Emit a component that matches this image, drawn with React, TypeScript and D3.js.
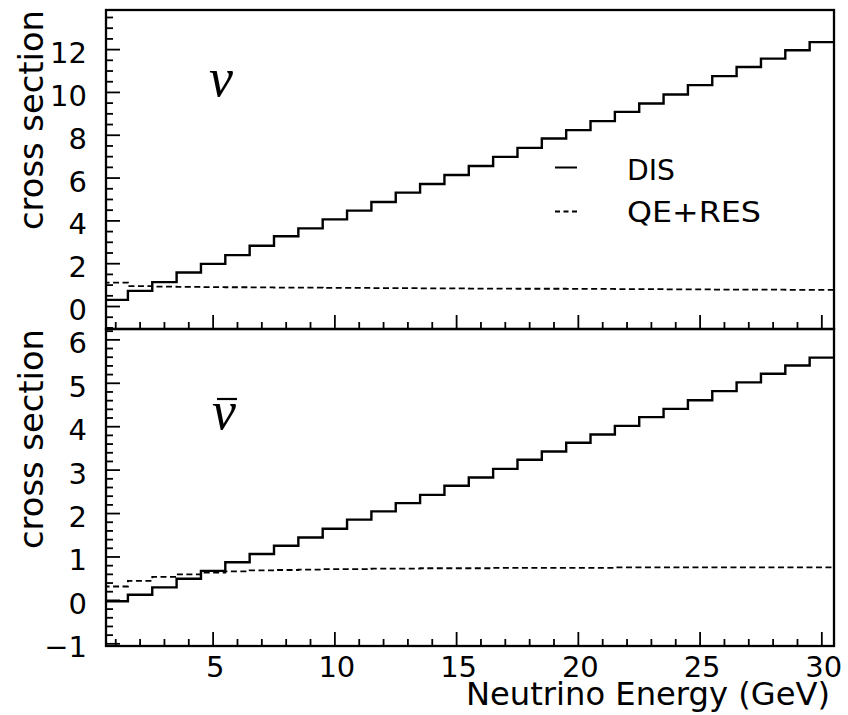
import React from "react";
import * as d3 from "d3";

// Energy bins: 1 GeV wide, centred on integer energies
const energies = d3.range(1, 31);

// Neutrino cross sections per bin
const nuDIS = [
  0.31, 0.73, 1.14, 1.59, 1.99, 2.4, 2.84, 3.28, 3.65, 4.07,
  4.48, 4.88, 5.32, 5.72, 6.14, 6.56, 6.99, 7.41, 7.85, 8.24,
  8.66, 9.09, 9.48, 9.9, 10.34, 10.76, 11.19, 11.58, 11.97, 12.35,
];
const nuQERES = [
  1.12, 0.95, 0.93, 0.92, 0.91, 0.9, 0.89, 0.88, 0.88, 0.87,
  0.87, 0.86, 0.86, 0.85, 0.85, 0.84, 0.84, 0.83, 0.83, 0.82,
  0.82, 0.81, 0.81, 0.8, 0.8, 0.79, 0.79, 0.79, 0.78, 0.78,
];

// Anti-neutrino cross sections per bin
const nubarDIS = [
  -0.02, 0.13, 0.3, 0.5, 0.68, 0.88, 1.07, 1.26, 1.45, 1.65,
  1.86, 2.05, 2.24, 2.43, 2.64, 2.83, 3.03, 3.24, 3.43, 3.63,
  3.82, 4.02, 4.22, 4.41, 4.61, 4.82, 5.02, 5.22, 5.41, 5.59,
];
const nubarQERES = [
  0.32, 0.45, 0.54, 0.6, 0.64, 0.67, 0.69, 0.7, 0.71, 0.72,
  0.72, 0.73, 0.73, 0.74, 0.74, 0.74, 0.75, 0.75, 0.75, 0.75,
  0.75, 0.76, 0.76, 0.76, 0.76, 0.76, 0.76, 0.76, 0.76, 0.76,
];

const xTickLabels = [5, 10, 15, 20, 25, 30];
const topYLabels = [0, 2, 4, 6, 8, 10, 12];
const bottomYLabels = [-1, 0, 1, 2, 3, 4, 5, 6];
const legendItems = ["DIS", "QE+RES"];

const W = 848;
const H = 715;
const LEFT = 106;
const RIGHT = 834;
const FONT = "'DejaVu Sans', sans-serif";
const GREEK = "'Liberation Serif', serif";
const DASH = "6 3.5";

const x = d3.scaleLinear().domain([0.6, 30.5]).range([LEFT, RIGHT]);

type Panel = {
  id: string;
  y: d3.ScaleLinear<number, number>;
  top: number;
  bottom: number;
  dis: number[];
  qeres: number[];
  labels: number[];
  majorStep: number;
  minorStep: number;
  tickMin: number;
  tickMax: number;
};

const panels: Panel[] = [
  {
    id: "nu",
    y: d3.scaleLinear().domain([-1.05, 13.85]).range([329, 10]),
    top: 10,
    bottom: 329,
    dis: nuDIS,
    qeres: nuQERES,
    labels: topYLabels,
    majorStep: 2,
    minorStep: 0.5,
    tickMin: -1,
    tickMax: 13.5,
  },
  {
    id: "nubar",
    y: d3.scaleLinear().domain([-1.05, 6.25]).range([646, 329]),
    top: 329,
    bottom: 646,
    dis: nubarDIS,
    qeres: nubarQERES,
    labels: bottomYLabels,
    majorStep: 1,
    minorStep: 0.2,
    tickMin: -1,
    tickMax: 6.2,
  },
];

function stepPath(values: number[], y: d3.ScaleLinear<number, number>) {
  // bin edges at e-0.5 ... last edge repeats the final value
  const pts: [number, number][] = energies.map((e, i) => [e - 0.5, values[i]]);
  pts.push([energies[energies.length - 1] + 0.5, values[values.length - 1]]);
  const line = d3
    .line<[number, number]>()
    .x((d) => x(d[0]))
    .y((d) => y(d[1]))
    .curve(d3.curveStepAfter);
  return line(pts) || "";
}

function PanelView({ p }: { p: Panel }) {
  const nMinor = Math.round((p.tickMax - p.tickMin) / p.minorStep);
  const yTicks = d3.range(0, nMinor + 1).map((i) => +(p.tickMin + i * p.minorStep).toFixed(3));
  const xTicks = d3.range(1, 31);
  const clipId = `clip-${p.id}`;
  return (
    <g>
      <defs>
        <clipPath id={clipId}>
          <rect x={LEFT} y={p.top} width={RIGHT - LEFT} height={p.bottom - p.top} />
        </clipPath>
      </defs>
      {/* y ticks */}
      {yTicks.map((v) => {
        const major = Math.abs(v / p.majorStep - Math.round(v / p.majorStep)) < 1e-6;
        const yy = p.y(v);
        return (
          <line
            key={`y${v}`}
            x1={LEFT}
            x2={LEFT + (major ? 14 : 7)}
            y1={yy}
            y2={yy}
            stroke="#000"
            strokeWidth={1.8}
          />
        );
      })}
      {/* x ticks along the bottom edge */}
      {xTicks.map((v) => {
        const major = v % 5 === 0;
        const xx = x(v);
        return (
          <line
            key={`x${v}`}
            x1={xx}
            x2={xx}
            y1={p.bottom}
            y2={p.bottom - (major ? 14 : 7)}
            stroke="#000"
            strokeWidth={1.8}
          />
        );
      })}
      {/* y tick labels */}
      {p.labels.map((v) => (
        <text
          key={`yl${v}`}
          x={87}
          y={p.y(v) + 13.5}
          textAnchor="end"
          fontFamily={FONT}
          fontSize={29}
          fill="#000"
        >
          {v < 0 ? `\u2212${Math.abs(v)}` : v}
        </text>
      ))}
      {/* axis title */}
      <text
        transform={`translate(43, ${p.top + 220}) rotate(-90)`}
        fontFamily={FONT}
        fontSize={33.5}
        textLength={220}
        lengthAdjust="spacingAndGlyphs"
        fill="#000"
      >
        cross section
      </text>
      {/* histograms */}
      <g clipPath={`url(#${clipId})`}>
        <path d={stepPath(p.qeres, p.y)} fill="none" stroke="#000" strokeWidth={1.8} strokeDasharray={DASH} />
        <path d={stepPath(p.dis, p.y)} fill="none" stroke="#000" strokeWidth={2.4} />
      </g>
      {/* frame */}
      <rect
        x={LEFT}
        y={p.top}
        width={RIGHT - LEFT}
        height={p.bottom - p.top}
        fill="none"
        stroke="#000"
        strokeWidth={2.3}
      />
    </g>
  );
}

export default function App() {
  return (
    <svg
      width={W}
      height={H}
      viewBox={`0 0 ${W} ${H}`}
      style={{ position: "fixed", left: 0, top: 0, background: "#fff" }}
    >
      <rect x={0} y={0} width={W} height={H} fill="#fff" />
      {panels.map((p) => (
        <PanelView key={p.id} p={p} />
      ))}

      {/* x tick labels */}
      {xTickLabels.map((v) => (
        <text
          key={`xl${v}`}
          x={x(v) + 2}
          y={677}
          textAnchor="middle"
          fontFamily={FONT}
          fontSize={29}
          fill="#000"
        >
          {v}
        </text>
      ))}
      <text
        x={466}
        y={705}
        fontFamily={FONT}
        fontSize={31.5}
        textLength={364}
        lengthAdjust="spacingAndGlyphs"
        fill="#000"
      >
        Neutrino Energy (GeV)
      </text>

      {/* panel tags */}
      <text x={209} y={96} fontFamily={GREEK} fontStyle="italic" fontSize={54} fill="#000">
        ν
      </text>
      <text x={212} y={429} fontFamily={GREEK} fontStyle="italic" fontSize={54} fill="#000">
        ν
      </text>
      <line x1={217} x2={237} y1={399} y2={399} stroke="#000" strokeWidth={2.2} />

      {/* legend */}
      <line x1={555} x2={577} y1={167.5} y2={167.5} stroke="#000" strokeWidth={2} />
      <text x={627} y={180} fontFamily={FONT} fontSize={27.5} textLength={48} lengthAdjust="spacingAndGlyphs" fill="#000">
        {legendItems[0]}
      </text>
      <line x1={555} x2={577} y1={211.5} y2={211.5} stroke="#000" strokeWidth={2} strokeDasharray="5 3.5" />
      <text x={627} y={221.5} fontFamily={FONT} fontSize={28} textLength={134} lengthAdjust="spacingAndGlyphs" fill="#000">
        {legendItems[1]}
      </text>
    </svg>
  );
}
